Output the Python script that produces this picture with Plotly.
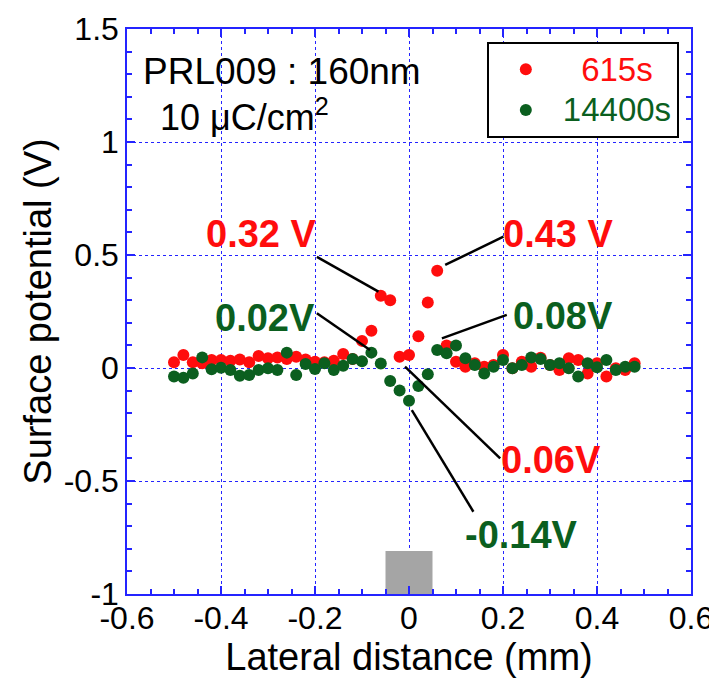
import plotly.graph_objects as go

# ---------------- data ----------------
x_pos = [-0.50, -0.48, -0.46, -0.44, -0.42, -0.40, -0.38, -0.36, -0.34, -0.32,
         -0.30, -0.28, -0.26, -0.24, -0.22, -0.20, -0.18, -0.16, -0.14, -0.12,
         -0.10, -0.08, -0.06, -0.04, -0.02, 0.00, 0.02, 0.04, 0.06, 0.08,
         0.10, 0.12, 0.14, 0.16, 0.18, 0.20, 0.22, 0.24, 0.26, 0.28,
         0.30, 0.32, 0.34, 0.36, 0.38, 0.40, 0.42, 0.44, 0.46, 0.48]

v_615s = [0.025, 0.058, 0.025, 0.021, 0.035, 0.035, 0.032, 0.038, 0.025, 0.053,
          0.043, 0.046, 0.040, 0.050, 0.038, 0.028, 0.025, 0.032, 0.062, 0.040,
          0.120, 0.165, 0.320, 0.300, 0.050, 0.058, 0.140, 0.290, 0.430, 0.100,
          0.028, 0.006, 0.021, 0.006, 0.013, 0.058, -0.001, 0.028, 0.006, 0.045,
          0.013, -0.009, 0.043, 0.035, -0.024, 0.021, -0.038, -0.001, -0.009, 0.021]

v_14400s = [-0.038, -0.043, -0.024, 0.047, -0.006, 0.001, -0.009, -0.034, -0.031, -0.009,
            -0.001, -0.009, 0.068, -0.031, 0.018, -0.004, 0.021, -0.009, 0.010, 0.040,
            0.030, 0.068, 0.020, -0.058, -0.100, -0.145, -0.080, -0.028, 0.080, 0.065,
            0.100, 0.043, 0.013, -0.024, 0.006, 0.035, -0.001, 0.013, 0.046, 0.040,
            0.013, 0.021, -0.001, -0.038, 0.021, 0.003, 0.035, -0.009, 0.006, 0.006]

series_names = ["615s", "14400s"]

x_tickvals = [-0.6, -0.4, -0.2, 0, 0.2, 0.4, 0.6]
x_ticktext = ["-0.6", "-0.4", "-0.2", "0", "0.2", "0.4", "0.6"]
y_tickvals = [-1, -0.5, 0, 0.5, 1, 1.5]
y_ticktext = ["-1", "-0.5", "0", "0.5", "1", "1.5"]

# electrode footprint (mm) and its drawn height
electrode_x = [-0.05, 0.05]
electrode_y = [-1.0, -0.81]

# callout labels: text, series, text position, leader line (from, to)
label_text = ["0.32 V", "0.43 V", "0.02V", "0.08V", "0.06V", "-0.14V"]
label_series = [0, 0, 1, 1, 0, 1]
label_x = [-0.313, 0.319, -0.306, 0.328, 0.302, 0.240]
label_y = [0.593, 0.593, 0.221, 0.230, -0.407, -0.739]
line_x0 = [-0.196, 0.077, -0.196, 0.070, -0.0085, 0.006]
line_y0 = [0.492, 0.456, 0.242, 0.131, 0.006, -0.186]
line_x1 = [-0.065, 0.201, -0.083, 0.208, 0.194, 0.137]
line_y1 = [0.338, 0.581, 0.080, 0.235, -0.400, -0.636]

# ---------------- styles ----------------
RED = "#ff0d0d"
GREEN = "#0b5f1f"
BLUE = "#2424ff"
FONT = "Arial, Liberation Sans, sans-serif"
colors = [RED, GREEN]

fig = go.Figure()

# electrode block
fig.add_trace(go.Scatter(
    x=[electrode_x[0], electrode_x[1], electrode_x[1], electrode_x[0], electrode_x[0]],
    y=[electrode_y[0], electrode_y[0], electrode_y[1], electrode_y[1], electrode_y[0]],
    mode="lines", fill="toself", fillcolor="#a5a5a5",
    line=dict(color="#a5a5a5", width=0), showlegend=False, hoverinfo="skip"))

legend_pad = ["\u00a0\u00a0", ""]
for vals, col, nm, pad in zip([v_615s, v_14400s], colors, series_names, legend_pad):
    fig.add_trace(go.Scatter(
        x=x_pos, y=vals, mode="markers",
        name="<span style='font-size:33px;color:%s'>%s%s</span>" % (col, pad, nm),
        marker=dict(color=col, size=12, line=dict(width=0))))

shapes = []
annotations = []
for i in range(len(label_text)):
    shapes.append(dict(type="line", xref="x", yref="y",
                       x0=line_x0[i], y0=line_y0[i], x1=line_x1[i], y1=line_y1[i],
                       line=dict(color="black", width=2.5)))
    annotations.append(dict(x=label_x[i], y=label_y[i], xref="x", yref="y",
                            text="<b>%s</b>" % label_text[i], showarrow=False,
                            font=dict(family=FONT, size=38, color=colors[label_series[i]])))

annotations.append(dict(x=-0.57, y=1.31, xref="x", yref="y", xanchor="left",
                        text="PRL009 : 160nm", showarrow=False,
                        font=dict(family=FONT, size=37, color="black")))
annotations.append(dict(x=-0.535, y=1.12, xref="x", yref="y", xanchor="left",
                        text="10 \u03bcC/cm<sup>2</sup>", showarrow=False,
                        font=dict(family=FONT, size=36, color="black")))

axis_common = dict(
    showline=True, linecolor=BLUE, linewidth=1.5, mirror="ticks",
    ticks="inside", ticklen=8, tickwidth=1.5, tickcolor=BLUE,
    showgrid=True, gridcolor=BLUE, griddash="dot", gridwidth=1.2,
    zeroline=False, automargin=False,
    tickfont=dict(family=FONT, size=32, color="black"),
)

# the page body adds an 8 px offset, so margins are set to place the plot
# area at the reference's pixel position
fig.update_layout(
    width=717, height=688,
    margin=dict(l=119, r=34, t=21, b=102),
    paper_bgcolor="white", plot_bgcolor="white",
    shapes=shapes, annotations=annotations,
    xaxis=dict(range=[-0.6, 0.6], tickvals=x_tickvals, ticktext=x_ticktext,
               ticklabelstandoff=-5,
               minor=dict(dtick=0.05, ticks="inside", ticklen=5, tickcolor=BLUE, showgrid=False),
               title=dict(text="Lateral distance (mm)", font=dict(family=FONT, size=38, color="black"),
                          standoff=0),
               **axis_common),
    yaxis=dict(range=[-1, 1.5], tickvals=y_tickvals, ticktext=y_ticktext,
               minor=dict(dtick=0.1, ticks="inside", ticklen=5, tickcolor=BLUE, showgrid=False),
               title=dict(text="Surface potential (V)", font=dict(family=FONT, size=38, color="black"),
                          standoff=0),
               **axis_common),
    legend=dict(x=0.638, y=0.977, xanchor="left", yanchor="top",
                bgcolor="white", bordercolor="black", borderwidth=2,
                font=dict(family=FONT, size=29, color="black"),
                itemwidth=64, entrywidth=114, tracegroupgap=0),
    showlegend=True,
)

fig.write_html("out.html")
